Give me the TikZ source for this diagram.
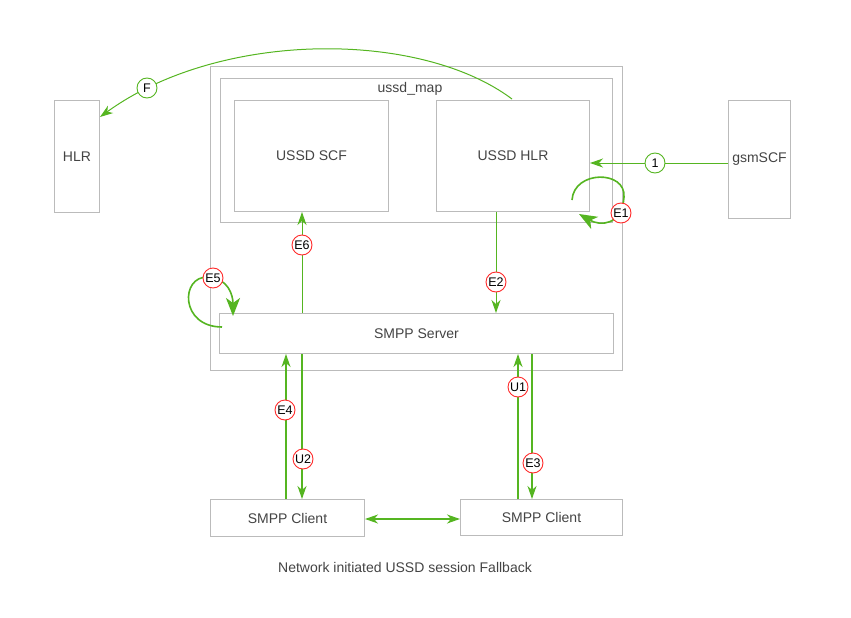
\documentclass[tikz,border=0pt]{standalone}
\usepackage{fontspec}
\setmainfont{Liberation Sans}
\usetikzlibrary{arrows.meta,calc}
\definecolor{gr}{HTML}{55B521}
\definecolor{rd}{HTML}{FF2A2A}
\definecolor{bx}{HTML}{BBBBBB}
\definecolor{tx}{HTML}{444444}
\tikzset{
  box/.style={draw=bx,line width=1pt,fill=white,anchor=north west,inner sep=0pt,text=tx,font=\fontsize{14}{16}\selectfont},
  lblr/.style={circle,draw=rd,line width=0.9pt,fill=white,minimum size=20pt,inner sep=0pt,font=\fontsize{12.5}{12.5}\selectfont},
  lblg/.style={lblr,draw=gr},
  arr/.style={draw=gr,line width=1.3pt,-{Stealth[length=13pt,width=9pt,inset=4pt]}},
  bigarr/.style={draw=gr,line width=1.6pt,-{Stealth[length=18pt,width=14pt,inset=5pt]}},
  dbl/.style={draw=gr,line width=1.3pt,{Stealth[length=13pt,width=9pt,inset=4pt]}-{Stealth[length=13pt,width=9pt,inset=4pt]}},
  capt/.style={text=tx,font=\fontsize{14}{16}\selectfont}
}
\begin{document}
\begin{tikzpicture}[x=1pt,y=-1pt]
\path[use as bounding box] (0,0) rectangle (851,618);
\node[box,minimum width=412pt,minimum height=304pt] (outer) at (210,66) {};
\node[box,minimum width=392pt,minimum height=144pt] (map) at (220,78) {};
\node[capt] (maplbl) at (410,89) {ussd\_map};
\node[box,minimum width=154pt,minimum height=111pt,text depth=-9pt] (scf) at (234,100) {USSD SCF};
\node[box,minimum width=153pt,minimum height=111pt,xshift=-5pt] (uhlr) at (441,100) {USSD HLR};
\node[box,minimum width=45pt,minimum height=112pt] (hlr) at (54,100) {HLR};
\node[box,minimum width=62pt,minimum height=118pt] (gsm) at (728,100) {gsmSCF};
\node[box,minimum width=394pt,minimum height=40pt] (srv) at (219,313) {SMPP Server};
\node[box,minimum width=154pt,minimum height=37pt] (cl1) at (210,499) {SMPP Client};
\node[box,minimum width=162pt,minimum height=36pt] (cl2) at (460,499) {SMPP Client};
\node[capt] (cap) at (405,567) {Network initiated USSD session Fallback};

% 1
\draw[arr,line width=1pt] (gsm.west |- 0,163) -- (uhlr.east |- 0,163);
\node[lblg] (l1) at (655,163) {1};
% F
\draw[arr,line width=1pt] (512,99) .. controls (420,30) and (220,30) .. (hlr.east |- 0,117);
\node[lblg] (lF) at (147,88) {F};
% E1 loop
\draw[bigarr] (572,200) .. controls (574,170) and (626,170) .. (624,197) .. controls (622,226) and (600,226) .. (579,214);
\node[lblr] (lE1) at (621,213) {E1};
% E6
\draw[arr,line width=1pt] (302,0 |- srv.north) -- (302,0 |- scf.south);
\node[lblr] (lE6) at (302,245) {E6};
% E2
\draw[arr,line width=1pt] (496,0 |- uhlr.south) -- (496,0 |- srv.north);
\node[lblr] (lE2) at (496,282) {E2};
% E5 loop
\draw[bigarr] (222,327) .. controls (180,327) and (180,276) .. (208,277) .. controls (228,278) and (233,295) .. (233,316);
\node[lblr] (lE5) at (213,278) {E5};
% E4 / U2
\draw[arr] (286,0 |- cl1.north) -- (286,0 |- srv.south);
\node[lblr] (lE4) at (285,410) {E4};
\draw[arr] (302,0 |- srv.south) -- (302,0 |- cl1.north);
\node[lblr] (lU2) at (303,459) {U2};
% U1 / E3
\draw[arr] (518,0 |- cl2.north) -- (518,0 |- srv.south);
\node[lblr] (lU1) at (518,387) {U1};
\draw[arr] (532,0 |- srv.south) -- (532,0 |- cl2.north);
\node[lblr] (lE3) at (533,463) {E3};
% clients
\draw[dbl] (cl1.east |- 0,519) -- (cl2.west |- 0,519);
\end{tikzpicture}
\end{document}
